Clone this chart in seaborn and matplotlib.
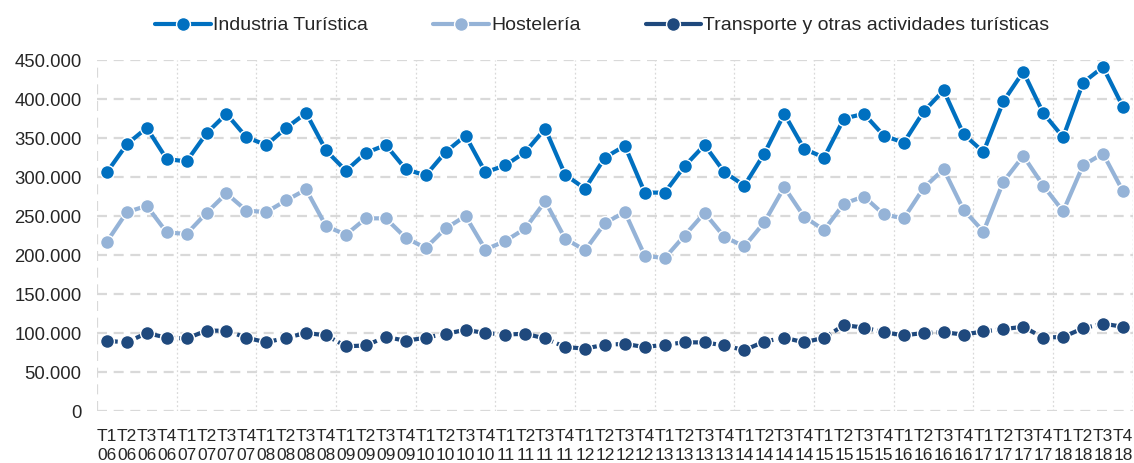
import matplotlib
matplotlib.use("Agg")
import matplotlib.pyplot as plt
import seaborn as sns
import pandas as pd
import numpy as np

years = ["06", "07", "08", "09", "10", "11", "12", "13", "14", "15", "16", "17", "18"]
quarters = ["T1", "T2", "T3", "T4"]
tick_labels = [f"{q}\n{y}" for y in years for q in quarters]

industria = [306000, 342000, 363000, 323000, 320000, 356000, 381000, 351000, 341000, 363000, 382000, 334000,
             308000, 331000, 341000, 310000, 302000, 332000, 353000, 306000, 315000, 332000, 362000, 303000,
             285000, 325000, 340000, 280000, 280000, 314000, 341000, 306000, 289000, 330000, 381000, 336000,
             325000, 375000, 381000, 353000, 344000, 384000, 411000, 355000, 332000, 397000, 435000, 382000,
             351000, 421000, 441000, 390000]
hosteleria = [217000, 255000, 263000, 229000, 227000, 254000, 279000, 257000, 255000, 270000, 284000, 237000,
              226000, 247000, 247000, 222000, 209000, 234000, 250000, 207000, 218000, 234000, 269000, 221000,
              206000, 241000, 255000, 199000, 196000, 225000, 254000, 223000, 211000, 242000, 287000, 249000,
              232000, 266000, 275000, 252000, 247000, 286000, 310000, 258000, 230000, 294000, 327000, 289000,
              256000, 315000, 330000, 282000]
transporte = [90000, 88000, 100000, 94000, 93000, 103000, 103000, 94000, 88000, 94000, 100000, 97000,
              83000, 84000, 95000, 90000, 94000, 99000, 104000, 100000, 98000, 99000, 93000, 82000,
              80000, 85000, 86000, 82000, 85000, 88000, 88000, 84000, 78000, 89000, 94000, 88000,
              94000, 110000, 107000, 101000, 97000, 100000, 101000, 98000, 102000, 105000, 108000, 94000,
              95000, 106000, 112000, 108000]

series_names = ["Industria Turística", "Hostelería", "Transporte y otras actividades turísticas"]
colors = ["#0070C0", "#95B3D7", "#1F497D"]

n = len(tick_labels)
df = pd.DataFrame({
    "x": list(range(n)) * 3,
    "valor": industria + hosteleria + transporte,
    "serie": [series_names[0]] * n + [series_names[1]] * n + [series_names[2]] * n,
})

sns.set_theme(style="white")
plt.rcParams["font.family"] = ["Liberation Sans", "DejaVu Sans"]

fig = plt.figure(figsize=(11.34, 4.63), dpi=100)
ax = fig.add_axes([0.0855, 0.1123, 0.9135, 0.7581])

# gridlines
for v in range(0, 450001, 50000):
    ax.axhline(v, color="#D9D9D9", lw=1.6, ls=(0, (4.5, 3)), zorder=0)
ax.axvline(-0.5, color="#D9D9D9", lw=1.6, ls=(0, (4.5, 3)), zorder=0)
for b in np.arange(3.5, n, 4):
    ax.axvline(b, color="#D9D9D9", lw=0.9, ls=(0, (1.5, 2)), zorder=0)
ax.axvline(n - 0.5, color="#D9D9D9", lw=0.9, ls=(0, (1.5, 2)), zorder=0)

sns.lineplot(data=df, x="x", y="valor", hue="serie", style="serie",
             palette=dict(zip(series_names, colors)),
             dashes={series_names[0]: "", series_names[1]: "", series_names[2]: (2.6, 1.0)},
             markers={s: "o" for s in series_names},
             markersize=10, markeredgecolor="white", markeredgewidth=1.0,
             linewidth=3, ax=ax, sort=False, zorder=3)

ax.set_xlim(-0.5, n - 0.5)
ax.set_ylim(0, 450000)
ax.set_xticks(range(n))
ax.set_xticklabels(tick_labels, fontsize=12.5, color="#262626", linespacing=1.3)
yt = list(range(0, 450001, 50000))
ax.set_yticks(yt)
ax.set_yticklabels([f"{v:,}".replace(",", ".") for v in yt], fontsize=13.3, color="#262626")
ax.tick_params(axis="both", length=0)
ax.tick_params(axis="x", pad=13)
ax.tick_params(axis="y", pad=11)
ax.set_xlabel("")
ax.set_ylabel("")
for s in ax.spines.values():
    s.set_visible(False)

handles, labels = ax.get_legend_handles_labels()
leg = ax.legend(handles, labels, loc="center", bbox_to_anchor=(0.488, 1.098), ncol=3,
                frameon=False, fontsize=14.0, handlelength=2.85, columnspacing=3.35, handletextpad=0.12,
                borderaxespad=0, borderpad=0)
for ln in leg.get_lines():
    ln.set_linestyle("-")
    ln.set_linewidth(3)
for t in leg.get_texts():
    t.set_color("#262626")

fig.savefig("out.png", dpi=100)
